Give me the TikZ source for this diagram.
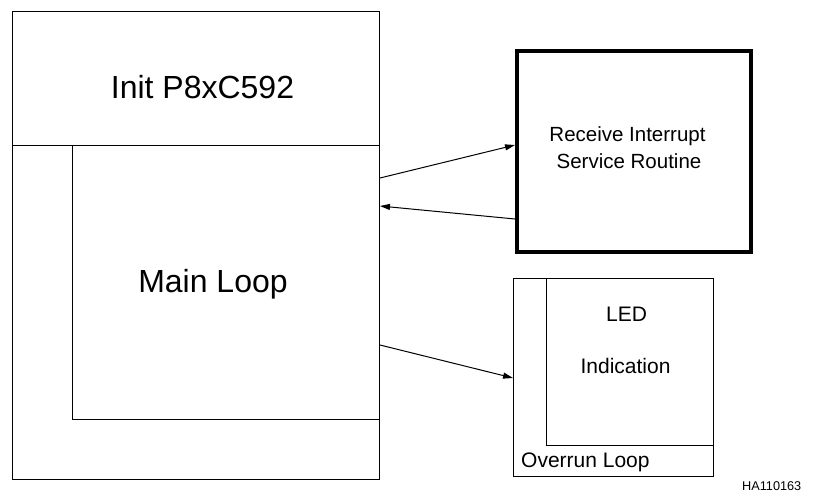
\documentclass[tikz,border=0pt]{standalone}
\usepackage{fontspec}
\setmainfont{Liberation Sans}
\usetikzlibrary{arrows.meta,calc}
\tikzset{
  box/.style={draw, line width=1pt, anchor=north west, inner sep=0pt},
  thickbox/.style={draw, line width=4pt, anchor=north west, inner sep=0pt},
  thin/.style={line width=1pt},
  arr/.style={line width=1pt, -{Triangle[length=10pt,width=6pt]}},
  big/.style={font=\fontsize{32}{36}\selectfont, anchor=base, inner sep=0pt},
  mid/.style={font=\fontsize{20.5}{24}\selectfont, anchor=base, inner sep=0pt},
  small/.style={font=\fontsize{12.7}{15}\selectfont, anchor=base west, inner sep=0pt}
}
\begin{document}
\begin{tikzpicture}[x=1pt,y=-1pt]
\useasboundingbox (0,0) rectangle (816,498);
% main program box
\node[box, minimum width=367pt, minimum height=468pt] (main) at (12,11) {};
\coordinate (initsplit) at (12,145);
\draw[thin] (initsplit) -- (main.east |- initsplit);
\coordinate (loopcorner) at (72,419);
\draw[thin] (72,145) -- (loopcorner) -- (main.east |- loopcorner);
\node[big] (init) at (202.5,98) {Init P8xC592};
\node[big] (mainloop) at (213,292) {Main Loop};
% ISR box
\node[thickbox, minimum width=234pt, minimum height=201pt] (isr) at (515,49) {};
\node[mid] (isr1) at (627.5,141) {Receive Interrupt};
\node[mid] (isr2) at (629,168) {Service Routine};
% Overrun box
\node[box, minimum width=200pt, minimum height=198pt] (ovr) at (513,278) {};
\coordinate (ledcorner) at (546,445);
\draw[thin] (546,278) -- (ledcorner) -- (ovr.east |- ledcorner);
\node[mid, font=\fontsize{21}{24}\selectfont] (led) at (626.5,321) {LED};
\node[mid, font=\fontsize{21}{24}\selectfont] (ind) at (625.5,373) {Indication};
\node[mid, font=\fontsize{21}{24}\selectfont, anchor=base west] (ovrl) at (521,467) {Overrun Loop};
\node[small] (ref) at (742,490) {HA110163};
% connectors
\draw[arr] (main.east |- 0,178) -- (isr.west |- 0,145);
\draw[arr] (isr.west |- 0,219) -- (main.east |- 0,206);
\draw[arr] (main.east |- 0,345) -- (ovr.west |- 0,378);
\end{tikzpicture}
\end{document}
